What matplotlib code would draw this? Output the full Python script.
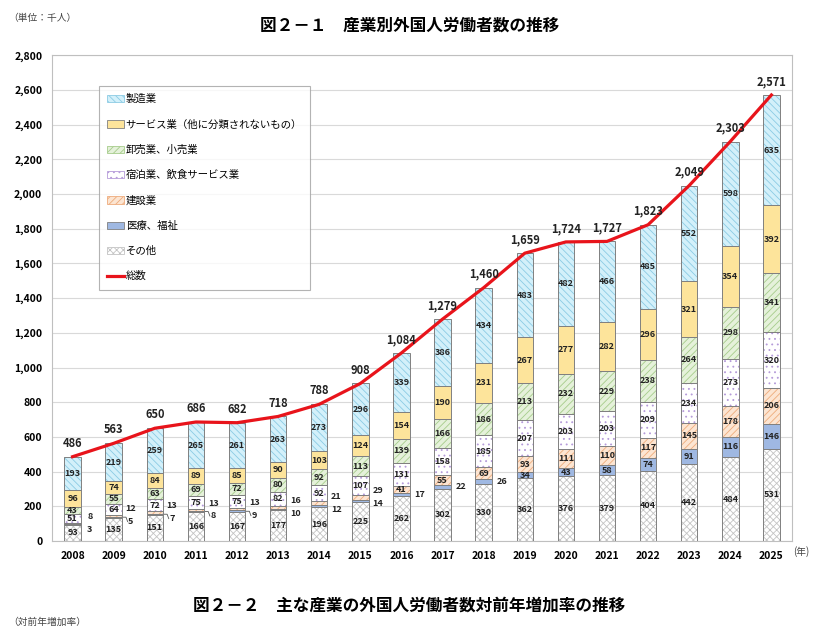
import numpy as np
import matplotlib.pyplot as plt
from matplotlib.patches import Patch
from matplotlib.lines import Line2D

plt.rcParams['font.family'] = ['Noto Sans CJK JP', 'DejaVu Sans']
plt.rcParams['hatch.linewidth'] = 0.6

years = ['2008', '2009', '2010', '2011', '2012', '2013', '2014', '2015', '2016',
         '2017', '2018', '2019', '2020', '2021', '2022', '2023', '2024', '2025']

# 下から順に積み上げ
sonota = [93, 135, 151, 166, 167, 177, 196, 225, 262, 302, 330, 362, 376, 379, 404, 442, 484, 531]
iryo = [3, 5, 7, 8, 9, 10, 12, 14, 17, 22, 26, 34, 43, 58, 74, 91, 116, 146]
kensetsu = [8, 12, 13, 13, 13, 16, 21, 29, 41, 55, 69, 93, 111, 110, 117, 145, 178, 206]
shukuhaku = [51, 64, 72, 75, 75, 82, 92, 107, 131, 158, 185, 207, 203, 203, 209, 234, 273, 320]
oroshi = [43, 55, 63, 69, 72, 80, 92, 113, 139, 166, 186, 213, 232, 229, 238, 264, 298, 341]
service = [96, 74, 84, 89, 85, 90, 103, 124, 154, 190, 231, 267, 277, 282, 296, 321, 354, 392]
seizo = [193, 219, 259, 265, 261, 263, 273, 296, 339, 386, 434, 483, 482, 466, 485, 552, 598, 635]
total = [486, 563, 650, 686, 682, 718, 788, 908, 1084, 1279, 1460, 1659, 1724, 1727, 1823, 2049, 2303, 2571]

names = ['その他', '医療、福祉', '建設業', '宿泊業、飲食サービス業', '卸売業、小売業',
         'サービス業（他に分類されないもの）', '製造業']
series = [sonota, iryo, kensetsu, shukuhaku, oroshi, service, seizo]
# (塗り, ハッチ, ハッチ色)
styles = [('#ffffff', 'xxxxx', '#c4c4c4'),
          ('#9fb8e2', '', None),
          ('#fce5d2', '/////', '#eeab7c'),
          ('#ffffff', '...', '#b59bd9'),
          ('#e5f1da', '/////', '#a6cc8b'),
          ('#fde49b', '', None),
          ('#d3f0fa', '\\\\\\\\\\', '#8ccbe4')]

fig = plt.figure(figsize=(8.19, 6.35), dpi=100)
ax = fig.add_axes([0.0635, 0.148, 0.9035, 0.765])

x = np.arange(len(years))
w = 0.4
bottom = np.zeros(len(years))
for i, vals in enumerate(series):
    v = np.array(vals)
    fc, hatch, hc = styles[i]
    if hatch:
        ax.bar(x, v, w, bottom=bottom, color=fc, hatch=hatch, edgecolor=hc, linewidth=0, zorder=2)
    else:
        ax.bar(x, v, w, bottom=bottom, color=fc, linewidth=0, zorder=2)
    ax.bar(x, v, w, bottom=bottom, fill=False, edgecolor='#808080', linewidth=0.7, zorder=3)
    for j in range(len(years)):
        if i in (1, 2) and j <= 7:
            continue
        if i == 1 and j <= 10:
            continue
        ax.text(x[j], bottom[j] + v[j] / 2, str(v[j]), ha='center', va='center',
                fontsize=6.5, fontweight='bold', color='#222222', zorder=5)
    bottom += v

# 小さい値は棒の右側に
for j in range(8):
    mid = sonota[j] + (iryo[j] + kensetsu[j]) / 2
    ax.text(x[j] + 0.42, mid + 42, str(kensetsu[j]), ha='center', va='center',
            fontsize=6.5, fontweight='bold', color='#222222')
    ax.text(x[j] + 0.42, mid - 32, str(iryo[j]), ha='center', va='center',
            fontsize=6.5, fontweight='bold', color='#222222')
    if 1 <= j <= 4:
        ax.plot([x[j] + w / 2, x[j] + 0.3, x[j] + 0.34],
                [sonota[j] + iryo[j] / 2, sonota[j] + iryo[j] / 2, mid - 32],
                color='#555555', lw=0.6)
for j in range(8, 11):
    ax.text(x[j] + 0.45, sonota[j] + iryo[j] / 2, str(iryo[j]), ha='center', va='center',
            fontsize=6.5, fontweight='bold', color='#222222')

ax.plot(x, total, color='#e8141b', lw=2.3, zorder=6)
for j in range(len(years)):
    ax.annotate(f'{total[j]:,}', (x[j], total[j]), xytext=(0, 5), textcoords='offset points',
                ha='center', va='bottom', fontsize=8, fontweight='bold', color='#222222', zorder=7)

ax.set_xlim(-0.5, len(years) - 0.5)
ax.set_ylim(0, 2800)
ax.set_yticks(np.arange(0, 2801, 200))
ax.set_yticklabels([f'{t:,}' for t in range(0, 2801, 200)], fontsize=7.5, fontweight='bold')
ax.set_xticks(x)
ax.set_xticklabels(years, fontsize=7.5, fontweight='bold')
ax.tick_params(length=0, pad=7)
ax.grid(axis='y', color='#d9d9d9', lw=0.8, zorder=0)
ax.set_axisbelow(True)
for s in ax.spines.values():
    s.set_color('#bfbfbf')
    s.set_linewidth(0.8)

handles = []
for i in range(len(series) - 1, -1, -1):
    fc, hatch, hc = styles[i]
    if hatch:
        handles.append(Patch(facecolor=fc, hatch=hatch, edgecolor=hc, linewidth=0.6, label=names[i]))
    else:
        handles.append(Patch(facecolor=fc, edgecolor='#808080', linewidth=0.6, label=names[i]))
handles.append(Line2D([0], [0], color='#e8141b', lw=2.3, label='総数'))
leg = ax.legend(handles=handles, loc='upper left', bbox_to_anchor=(0.063, 0.937),
                fontsize=7.5, frameon=True, fancybox=False, edgecolor='#a0a0a0',
                labelspacing=1.45, handlelength=1.6, handleheight=0.7, handletextpad=0.2,
                borderpad=0.8, borderaxespad=0)
leg.get_frame().set_linewidth(0.8)
leg.set_zorder(10)

fig.text(0.5, 0.96, '図２－１　産業別外国人労働者数の推移', ha='center', va='center',
         fontsize=12, fontweight='bold')
fig.text(0.01, 0.972, '（単位：千人）', ha='left', va='center', fontsize=7, color='#444444')
fig.text(0.969, 0.131, '(年)', ha='left', va='center', fontsize=7, color='#444444')
fig.text(0.5, 0.047, '図２－２　主な産業の外国人労働者数対前年増加率の推移', ha='center',
         va='center', fontsize=12, fontweight='bold')
fig.text(0.01, 0.02, '（対前年増加率）', ha='left', va='center', fontsize=7, color='#444444')

fig.savefig('out.png', dpi=100)
